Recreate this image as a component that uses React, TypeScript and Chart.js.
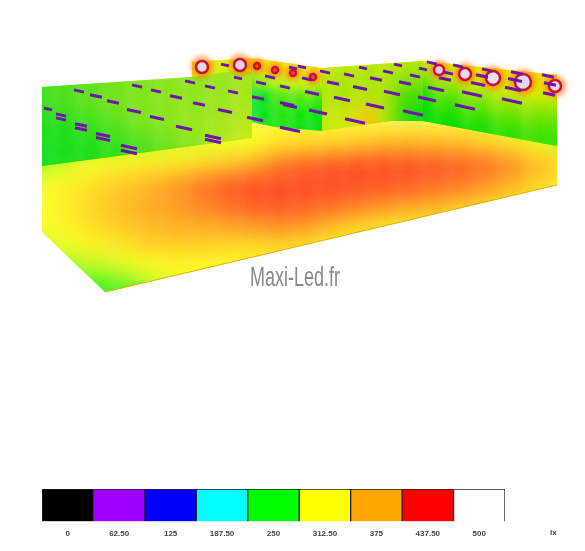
import React, { useEffect, useRef } from "react";
import { Chart, registerables } from "chart.js";
Chart.register(...registerables);

// ---------- colour legend ----------
const legendLabels = ["0", "62.50", "125", "187.50", "250", "312.50", "375", "437.50", "500"];
const legendColors = ["#000000", "#a000ff", "#0000ff", "#00ffff", "#00ff00", "#ffff00", "#ffa500", "#ff0000", "#ffffff"];
const legendUnit = "lx";
const watermark = "Maxi-Led.fr";

// ---------- illuminance grids (lx) ----------
const floorXs = [46, 72, 98, 124, 150, 176, 202, 228, 254, 280, 306, 332, 358, 384, 410, 436, 462, 488, 514, 540, 566];
const floorYs = [130, 150, 170, 190, 210, 230, 250, 270, 290, 310];
const floorLux = [
  [285, 285, 290, 290, 295, 300, 305, 310, 315, 320, 322, 322, 322, 322, 322, 322, 325, 320, 300, 285, 280],
  [270, 275, 285, 290, 295, 300, 305, 308, 310, 335, 340, 345, 355, 370, 375, 370, 365, 350, 335, 315, 300],
  [290, 305, 315, 320, 325, 330, 340, 355, 375, 398, 410, 415, 418, 418, 418, 415, 412, 405, 392, 370, 345],
  [310, 325, 340, 355, 370, 385, 400, 412, 418, 418, 418, 418, 418, 415, 412, 405, 400, 390, 375, 350, 325],
  [312, 330, 350, 365, 378, 385, 395, 405, 412, 415, 412, 408, 400, 392, 385, 380, 365, 345, 335, 325, 320],
  [310, 325, 345, 358, 368, 374, 378, 382, 388, 392, 388, 375, 355, 340, 330, 325, 320, 320, 320, 320, 320],
  [302, 308, 322, 335, 350, 355, 352, 345, 345, 350, 345, 325, 318, 318, 318, 318, 318, 318, 318, 318, 318],
  [295, 290, 298, 306, 314, 318, 318, 318, 318, 318, 318, 318, 318, 318, 318, 318, 318, 318, 318, 318, 318],
  [268, 262, 262, 270, 292, 305, 312, 315, 318, 318, 318, 318, 318, 318, 318, 318, 318, 318, 318, 318, 318],
  [250, 250, 250, 252, 260, 280, 300, 310, 318, 318, 318, 318, 318, 318, 318, 318, 318, 318, 318, 318, 318],
];

const leftWallXs = [40, 66, 92, 118, 144, 170, 196, 222, 248, 270];
const leftWallYs = [70, 90, 110, 130, 150, 170];
const leftWallLux = [
  [262, 268, 272, 276, 280, 284, 286, 288, 292, 292],
  [262, 266, 270, 276, 280, 283, 285, 287, 292, 292],
  [258, 264, 272, 277, 281, 284, 286, 288, 292, 292],
  [252, 254, 260, 268, 278, 284, 288, 292, 298, 298],
  [248, 248, 252, 258, 266, 274, 284, 294, 304, 304],
  [250, 250, 252, 258, 268, 276, 286, 296, 304, 304],
];

const backBXs = [246, 264, 282, 300, 318, 330];
const backBYs = [55, 70, 85, 100, 115, 130];
const backBLux = [
  [325, 325, 325, 325, 325, 325],
  [322, 322, 322, 322, 322, 322],
  [262, 288, 298, 302, 302, 302],
  [228, 245, 268, 272, 270, 270],
  [236, 245, 258, 252, 250, 250],
  [240, 248, 255, 250, 248, 248],
];

const backCXs = [318, 344, 370, 396, 412, 428];
const backCYs = [60, 75, 90, 105, 120, 135];
const backCLux = [
  [306, 306, 304, 304, 304, 304],
  [302, 300, 298, 298, 296, 296],
  [298, 296, 296, 294, 284, 284],
  [296, 296, 298, 290, 268, 268],
  [300, 304, 335, 290, 258, 258],
  [300, 304, 335, 290, 258, 258],
];

const backDXs = [420, 450, 480, 510, 540, 565];
const backDYs = [55, 70, 85, 100, 115, 130, 145];
const backDLux = [
  [312, 318, 320, 322, 322, 322],
  [306, 314, 318, 322, 322, 322],
  [282, 302, 314, 322, 325, 325],
  [260, 280, 294, 304, 310, 310],
  [250, 264, 276, 286, 292, 292],
  [248, 252, 260, 270, 276, 276],
  [250, 250, 254, 260, 266, 266],
];

const stripXs = [186, 206, 226, 246, 262];
const stripYs = [55, 70, 85];
const stripLux = [
  [325, 335, 305, 320, 330],
  [325, 335, 305, 320, 330],
  [305, 305, 298, 298, 298],
];

// ---------- surface outlines ----------
const floorOutline = [[42, 165], [252, 137], [252, 122], [275, 127], [322, 131], [390, 120], [423, 120], [557, 145], [557, 185], [105, 292], [42, 232]];
const leftWallOutline = [[42, 87], [192, 77], [235, 70], [252, 58], [252, 138], [42, 166]];
const stripOutline = [[192, 62], [252, 58], [252, 72], [235, 71], [192, 77]];
const backBOutline = [[252, 58], [322, 68], [322, 131], [275, 127], [252, 122]];
const backCOutline = [[322, 68], [423, 61], [423, 121], [390, 121], [322, 131]];
const backDOutline = [[423, 61], [557, 75], [557, 146], [423, 121]];
const frontEdge = [[105, 292], [557, 185]];

// ---------- luminaires: centre x, centre y, half length ----------
const dashCentres = [
  [137, 86, 5], [156, 91, 5], [176, 97, 6], [199, 104, 6], [225, 111, 7], [255, 119, 8], [288, 129, 8],
  [190, 82, 5], [210, 87, 5], [233, 92, 5], [258, 98, 6], [287, 104, 7],
  [238, 78, 4], [261, 83, 5], [285, 87, 5],
  [79, 91, 5], [96, 96, 6], [113, 102, 6], [134, 111, 7], [157, 118, 7], [184, 128, 8], [213, 137, 8], [213, 141, 8],
  [48, 109, 4], [61, 115, 5], [61, 119, 5], [81, 125, 6], [81, 129, 6], [103, 135, 7], [103, 139, 7], [129, 147, 8], [129, 152, 8],
  [302, 67, 4], [325, 72, 5], [307, 79, 5], [333, 83, 6], [349, 75, 5], [363, 68, 4], [388, 72, 5], [376, 79, 6], [405, 83, 6], [415, 76, 5], [423, 69, 4], [398, 65, 4], [432, 63, 5],
  [312, 93, 7], [342, 99, 8], [360, 88, 7], [392, 93, 8], [436, 89, 8], [445, 79, 6], [427, 99, 9], [375, 106, 9], [318, 112, 9], [355, 121, 10], [413, 113, 10],
  [465, 107, 10], [472, 94, 10], [512, 101, 10], [513, 89, 8], [478, 84, 7], [517, 73, 6], [487, 70, 5], [458, 66, 5], [448, 73, 5], [482, 76, 6], [515, 80, 7], [548, 76, 6], [550, 84, 6], [549, 94, 6],
  [293, 130, 7], [225, 65, 4], [293, 68, 4], [270, 77, 5], [290, 106, 7],
];
const ringX = [202, 240, 257, 275, 293, 313, 439, 465, 493, 523, 555];
const ringY = [67, 65, 66, 70, 73, 77, 70, 74, 78, 82, 86];
const ringR = [6, 6, 3, 3, 3, 3, 5, 6, 7, 8, 6];
const ringFill = ["#e8d8e0", "#e0d0f0", "#f05020", "#f05020", "#f05020", "#f05020", "#e8c8e8", "#e8d8ee", "#e8e0f4", "#dcdcf8", "#e8d8ee"];

const lerp = (a: number, b: number, t: number) => a + (b - a) * t;
const stops: [number, number[]][] = [
  [187.5, [0, 255, 255]], [250, [0, 238, 0]], [312.5, [255, 255, 0]],
  [375, [255, 165, 0]], [437.5, [255, 0, 0]], [500, [255, 255, 255]],
];
function luxColor(v: number, shade: number) {
  for (let i = 0; i < stops.length - 1; i++) {
    if (v <= stops[i + 1][0]) {
      const t = Math.max(0, (v - stops[i][0]) / (stops[i + 1][0] - stops[i][0]));
      const c = stops[i][1].map((k, j) => Math.round(lerp(k, stops[i + 1][1][j], t) * shade));
      return `rgb(${c[0]},${c[1]},${c[2]})`;
    }
  }
  return "#fff";
}

function surface(xs: number[], ys: number[], lux: number[][], outline: number[][], radius: number, blur: number, shade: number) {
  const data: { x: number; y: number }[] = [];
  const colors: string[] = [];
  ys.forEach((y, r) => xs.forEach((x, c) => { data.push({ x, y }); colors.push(luxColor(lux[r][c], shade)); }));
  return {
    type: "scatter", data, showLine: false, pointStyle: "rect", pointRadius: radius, pointBorderWidth: 0,
    pointBackgroundColor: colors, clipPoly: outline, blurPx: blur,
  };
}

const surfacePlugin = {
  id: "surfaceClip",
  beforeDatasetDraw(chart: any, args: any) {
    const ds = chart.data.datasets[args.index];
    const { ctx, scales } = chart;
    ctx.save();
    if (ds.clipPoly) {
      ctx.beginPath();
      ds.clipPoly.forEach((p: number[], i: number) => {
        const px = scales.x.getPixelForValue(p[0]);
        const py = scales.y.getPixelForValue(p[1]);
        if (i) ctx.lineTo(px, py); else ctx.moveTo(px, py);
      });
      ctx.closePath();
      ctx.clip();
    }
    if (ds.blurPx) ctx.filter = `blur(${ds.blurPx}px)`;
  },
  afterDatasetDraw(chart: any) {
    chart.ctx.restore();
  },
  afterDraw(chart: any) {
    const { ctx, scales } = chart;
    ctx.save();
    ctx.translate(scales.x.getPixelForValue(295), scales.y.getPixelForValue(286));
    ctx.scale(0.9, 1.4);
    ctx.font = "20px 'Liberation Sans'";
    ctx.textAlign = "center";
    ctx.textBaseline = "alphabetic";
    ctx.fillStyle = "#8a8a8a";
    ctx.fillText(watermark, 0, 0);
    ctx.restore();
  },
};

const lxPlugin = {
  id: "unitLabel",
  afterDraw(chart: any) {
    const { ctx, scales } = chart;
    ctx.save();
    ctx.font = "bold 8px 'Liberation Sans'";
    ctx.fillStyle = "#444";
    ctx.textAlign = "center";
    ctx.textBaseline = "middle";
    ctx.fillText(legendUnit, scales.x.getPixelForValue(8) + 74, 52.5);
    ctx.restore();
  },
};

export default function App() {
  const sceneRef = useRef<HTMLCanvasElement>(null);
  const legendRef = useRef<HTMLCanvasElement>(null);
  useEffect(() => {
    const dashes: any[] = [];
    dashCentres.forEach(([x, y, h]) => {
      dashes.push({ x: x - h, y: y - h * 0.22 }, { x: x + h, y: y + h * 0.22 }, { x: NaN, y: NaN });
    });
    const rings = ringX.map((x, i) => ({ x, y: ringY[i] }));
    const list: any[] = [
      surface(floorXs, floorYs, floorLux, floorOutline, 20, 11, 1),
      surface(leftWallXs, leftWallYs, leftWallLux, leftWallOutline, 20, 9, 0.92),
      surface(backBXs, backBYs, backBLux, backBOutline, 14, 5, 0.95),
      surface(backCXs, backCYs, backCLux, backCOutline, 20, 7, 0.92),
      surface(backDXs, backDYs, backDLux, backDOutline, 22, 7, 0.93),
      surface(stripXs, stripYs, stripLux, stripOutline, 16, 4, 0.96),
      { type: "line", data: frontEdge.map(([x, y]) => ({ x, y })), pointRadius: 0, borderWidth: 1.2, borderColor: "#e0b400" },
      { type: "scatter", data: rings, showLine: false, pointRadius: ringR.map((r) => r + 5), pointBorderWidth: 0, pointBackgroundColor: "rgba(255,110,0,0.6)", blurPx: 2.5 },
      { type: "scatter", data: rings, showLine: false, pointRadius: ringR, pointBorderWidth: 2.5, pointBorderColor: "#cc1030", pointBackgroundColor: ringFill, blurPx: 0.7 },
      { type: "line", data: dashes, showLine: true, spanGaps: false, pointRadius: 0, borderWidth: 3, borderColor: "#7014ac", blurPx: 0.4 },
    ];
    list.forEach((d, i) => { d.order = list.length - i; });

    const scene = new Chart(sceneRef.current!, {
      type: "scatter",
      data: { datasets: list },
      plugins: [surfacePlugin],
      options: {
        animation: false, responsive: false,
        plugins: { legend: { display: false }, tooltip: { enabled: false } },
        layout: { padding: 0, autoPadding: false },
        scales: {
          x: { type: "linear", min: 0, max: 585, display: false },
          y: { type: "linear", min: 0, max: 480, reverse: true, display: false },
        },
      },
    } as any);

    const legend = new Chart(legendRef.current!, {
      type: "bar",
      data: {
        labels: legendLabels,
        datasets: [{
          data: legendLabels.map(() => 1), backgroundColor: legendColors,
          borderColor: "#222", borderWidth: 1,
          barPercentage: 1, categoryPercentage: 1,
        }],
      },
      plugins: [lxPlugin],
      options: {
        animation: false, responsive: false,
        plugins: { legend: { display: false }, tooltip: { enabled: false } },
        layout: { padding: { left: 42, right: 80, top: 9, bottom: 4 }, autoPadding: false },
        scales: {
          x: {
            grid: { display: false, drawTicks: false }, border: { display: false },
            ticks: { color: "#444", font: { family: "'Liberation Sans'", size: 8, weight: "bold" }, padding: 8, maxRotation: 0, autoSkip: false },
          },
          y: { display: false, min: 0, max: 1 },
        },
      },
    } as any);
    return () => { scene.destroy(); legend.destroy(); };
  }, []);
  return (
    <div style={{ position: "fixed", left: 0, top: 0, width: 585, height: 551, background: "#fff" }}>
      <canvas ref={sceneRef} width={585} height={480} style={{ position: "absolute", left: 0, top: 0 }} />
      <canvas ref={legendRef} width={585} height={71} style={{ position: "absolute", left: 0, top: 480 }} />
    </div>
  );
}
